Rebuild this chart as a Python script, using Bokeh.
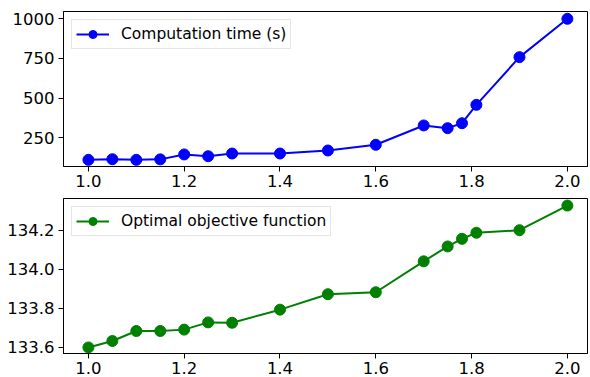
from bokeh.plotting import figure
from bokeh.layouts import column
from bokeh.models import FixedTicker, NumeralTickFormatter, Range1d
from bokeh.embed import file_html
from bokeh.resources import INLINE

x_vals = [1.0, 1.05, 1.1, 1.15, 1.2, 1.25, 1.3, 1.4, 1.5, 1.6, 1.7, 1.75, 1.78, 1.81, 1.9, 2.0]
comp_time = [110, 114, 110, 113, 144, 133, 150, 150, 169, 205, 327, 310, 341, 457, 758, 1000]
objective = [133.600, 133.633, 133.684, 133.684, 133.691, 133.728, 133.726, 133.793,
             133.872, 133.882, 134.040, 134.116, 134.155, 134.186, 134.199, 134.325]
x_ticks = [1.0, 1.2, 1.4, 1.6, 1.8, 2.0]
top_ticks = [250, 500, 750, 1000]
bottom_ticks = [133.6, 133.8, 134.0, 134.2]

FONT = "DejaVu Sans"
TICK_FS = "16.5px"
LEG_FS = "15.5px"


def make_fig(height, top, bottom, yr, yticks, yfmt):
    p = figure(width=590, height=height, frame_width=524, frame_height=155,
               output_backend="svg", toolbar_location=None,
               x_range=Range1d(0.948, 2.042), y_range=Range1d(*yr),
               min_border_left=63, min_border_right=3,
               min_border_top=top, min_border_bottom=bottom)
    p.grid.visible = False
    p.outline_line_color = "black"
    p.outline_line_width = 1
    p.background_fill_color = "white"
    p.border_fill_color = "white"
    for ax in (p.xaxis[0], p.yaxis[0]):
        ax.major_label_text_font = FONT
        ax.major_label_text_font_size = TICK_FS
        ax.major_label_text_color = "black"
        ax.major_tick_out = 5
        ax.major_tick_in = 0
        ax.minor_tick_out = 0
        ax.minor_tick_in = 0
        ax.axis_line_color = "black"
        ax.major_tick_line_color = "black"
        ax.major_label_standoff = 4
    p.xaxis[0].major_label_standoff = 3
    p.xaxis[0].ticker = FixedTicker(ticks=x_ticks)
    p.xaxis[0].formatter = NumeralTickFormatter(format="0.0")
    p.yaxis[0].ticker = FixedTicker(ticks=yticks)
    p.yaxis[0].formatter = NumeralTickFormatter(format=yfmt)
    return p


p1 = make_fig(193, 11, 27, (68, 1046), top_ticks, "0")
p1.line(x_vals, comp_time, color="#0000ff", line_width=2, legend_label="Computation time (s)")
p1.scatter(x_vals, comp_time, color="#0000ff", size=11, legend_label="Computation time (s)")

p2 = make_fig(184, 5, 24, (133.569, 134.361), bottom_ticks, "0.0")
p2.line(x_vals, objective, color="#008000", line_width=2, legend_label="Optimal objective function")
p2.scatter(x_vals, objective, color="#008000", size=11, legend_label="Optimal objective function")

for p in (p1, p2):
    lg = p.legend[0]
    lg.location = "top_left"
    lg.margin = 8
    lg.padding = 4
    lg.spacing = 0
    lg.label_text_font = FONT
    lg.label_text_font_size = LEG_FS
    lg.label_text_color = "black"
    lg.label_standoff = 12
    lg.glyph_width = 33
    lg.glyph_height = 20
    lg.border_line_color = "#cccccc"
    lg.border_line_width = 1
    lg.background_fill_alpha = 0.8

layout = column(p1, p2, spacing=0)
open("out.html", "w").write(file_html(layout, INLINE))
